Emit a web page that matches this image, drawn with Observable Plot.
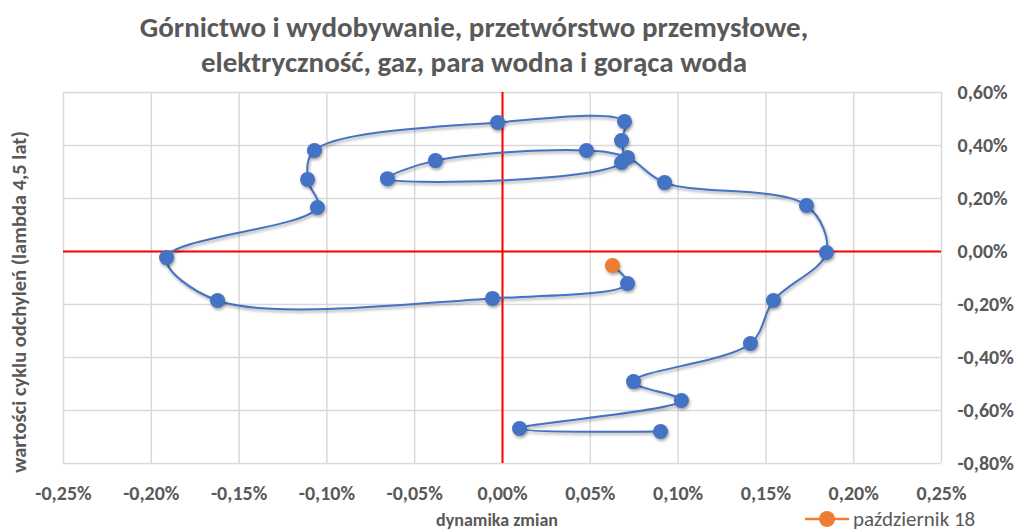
<!DOCTYPE html>
<html><head><meta charset="utf-8">
<script src="https://cdn.jsdelivr.net/npm/d3@7"></script>
<script src="https://cdn.jsdelivr.net/npm/@observablehq/plot@0.6"></script>
<style>
html,body{margin:0;padding:0;background:#fff;}
#wrap{position:relative;width:1023px;height:531px;overflow:hidden;font-family:Carlito,Lato,"Open Sans",sans-serif;color:#595959;}
.title{position:absolute;left:0;width:948px;text-align:center;font-weight:bold;font-size:29px;line-height:35px;top:10px;}
.ylab{position:absolute;left:19px;top:302px;transform:translate(-50%,-50%) rotate(-90deg);white-space:nowrap;font-weight:bold;font-size:20.5px;}
.xlab{position:absolute;left:497px;top:509px;transform:translateX(-50%);white-space:nowrap;font-weight:bold;font-size:18px;}
.legend{position:absolute;left:805px;top:506px;display:flex;align-items:center;font-size:21px;}
</style></head>
<body>
<div id="wrap">
  <div class="title">Górnictwo i wydobywanie, przetwórstwo przemysłowe,<br>elektryczność, gaz, para wodna i gorąca woda</div>
  <div class="ylab">wartości cyklu odchyleń (lambda 4,5 lat)</div>
  <div class="xlab">dynamika zmian</div>
  <div class="legend"><svg width="44" height="24"><line x1="0" y1="12" x2="44" y2="12" stroke="#ED7D31" stroke-width="2.5"/><circle cx="22" cy="12" r="8" fill="#ED7D31"/></svg><span style="margin-left:4px">październik 18</span></div>
</div>
<script>
// dynamika zmian (%), chronological order
const dynamika = [0.0900, 0.0097, 0.1019, 0.0746, 0.1412, 0.1543, 0.1845, 0.1731, 0.0923, 0.0712, 0.0478, -0.0382, -0.0655, 0.0678, 0.0678, 0.0695, -0.0028, -0.1071, -0.1110, -0.1054, -0.1913, -0.1623, -0.0057, 0.0712, 0.0626];
// wartości cyklu odchyleń (%)
const cykl = [-0.679, -0.668, -0.562, -0.491, -0.347, -0.185, -0.004, 0.174, 0.260, 0.355, 0.381, 0.343, 0.275, 0.336, 0.419, 0.491, 0.487, 0.381, 0.272, 0.166, -0.023, -0.185, -0.177, -0.121, -0.053];
const lastLabel = "październik 18";
const xTicks = [-0.25, -0.20, -0.15, -0.10, -0.05, 0, 0.05, 0.10, 0.15, 0.20, 0.25];
const yTicks = [-0.8, -0.6, -0.4, -0.2, 0, 0.2, 0.4, 0.6];

const pts = dynamika.map((x, i) => ({x, y: cykl[i], last: i === dynamika.length - 1}));
const fmt = d => (Math.abs(d) < 1e-9 ? 0 : d).toFixed(2).replace(".", ",") + "%";

const chart = Plot.plot({
  width: 1023, height: 531,
  marginTop: 92, marginBottom: 68, marginLeft: 63, marginRight: 82,
  style: {fontFamily: "Carlito, Lato, 'Open Sans', sans-serif", fontSize: "20px", fontWeight: "bold", color: "#595959", background: "transparent"},
  x: {domain: [-0.25, 0.25], ticks: xTicks, tickFormat: fmt, label: null},
  y: {domain: [-0.8, 0.6], ticks: yTicks, tickFormat: fmt, label: null},
  marks: [
    Plot.gridX(xTicks, {stroke: "#d9d9d9", strokeOpacity: 1, strokeWidth: 1.5}),
    Plot.gridY(yTicks, {stroke: "#d9d9d9", strokeOpacity: 1, strokeWidth: 1.5}),
    Plot.ruleX([0], {stroke: "#ff0000", strokeWidth: 2}),
    Plot.ruleY([0], {stroke: "#ff0000", strokeWidth: 2}),
    Plot.axisX(xTicks, {tickSize: 0, tickPadding: 22, tickFormat: fmt, fill: "#595959"}),
    Plot.axisY(yTicks, {anchor: "right", tickSize: 0, tickPadding: 16, tickFormat: fmt, fill: "#595959"}),
    Plot.line(pts, {x: "x", y: "y", curve: "catmull-rom", stroke: "#4472C4", strokeWidth: 2}),
    Plot.dot(pts.filter(d => !d.last), {x: "x", y: "y", r: 7.5, fill: "#4472C4"}),
    Plot.dot(pts.filter(d => d.last), {x: "x", y: "y", r: 7.5, fill: "#ED7D31", title: () => lastLabel})
  ]
});
chart.style.position = "absolute";
chart.style.left = "0";
chart.style.top = "0";
d3.select(chart).selectAll('g[aria-label="dot"], g[aria-label="line"]').style("filter", "drop-shadow(1.5px 2px 1.5px rgba(0,0,0,0.35))");
document.getElementById("wrap").prepend(chart);
</script>
</body></html>
